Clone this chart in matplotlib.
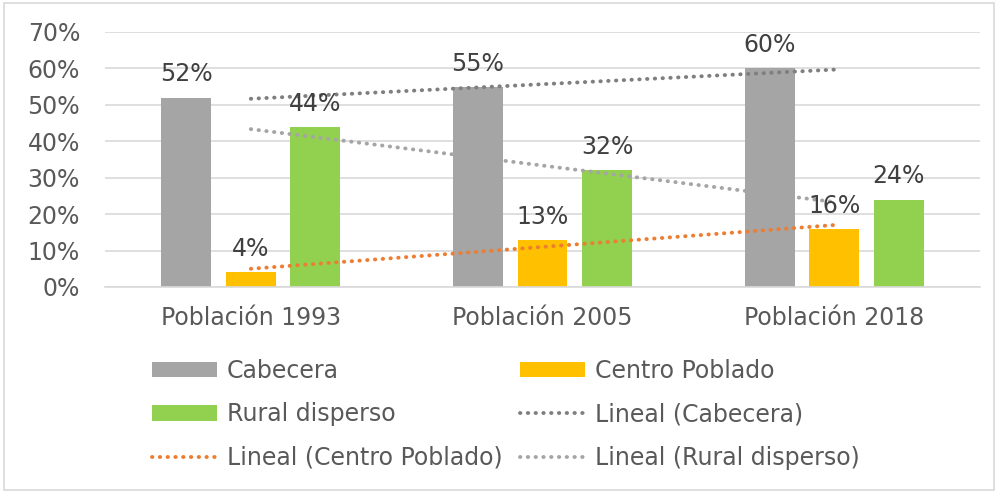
import numpy as np
import matplotlib
matplotlib.use("Agg")
import matplotlib.pyplot as plt
from matplotlib.patches import Rectangle

categories = ["Población 1993", "Población 2005", "Población 2018"]
series_names = ["Cabecera", "Centro Poblado", "Rural disperso"]
cabecera = [52, 55, 60]
centro = [4, 13, 16]
rural = [44, 32, 24]
yticks = [0, 10, 20, 30, 40, 50, 60, 70]

colors = ["#A5A5A5", "#FFC000", "#92D050"]
trend_colors = ["#7F7F7F", "#ED7D31", "#A5A5A5"]
label_color = "#404040"
text_color = "#595959"
FS = 17

plt.rcParams['font.family'] = ['DejaVu Sans']
fig = plt.figure(figsize=(10, 4.92), dpi=100)
ax = fig.add_axes([0.105, 0.4167, 0.875, 0.5183])

x = np.arange(len(categories))
w = 0.171
step = 0.221
data = [cabecera, centro, rural]
bars = []
for i, (vals, c, name) in enumerate(zip(data, colors, series_names)):
    b = ax.bar(x + (i - 1) * step, vals, width=w, color=c, label=name, zorder=2)
    bars.append(b)
    for xi, v in zip(x + (i - 1) * step, vals):
        ax.annotate(f"{v}%", (xi, v), xytext=(0, 8), textcoords="offset points",
                    ha="center", va="bottom", fontsize=FS, color=label_color, zorder=4)

trend_handles = []
for vals, c, name in zip(data, trend_colors, series_names):
    coef = np.polyfit(x, vals, 1)
    ln, = ax.plot(x, np.polyval(coef, x), color=c, linestyle=(0, (0.1, 1.9)),
                  dash_capstyle="round", linewidth=2.8, zorder=3,
                  label=f"Lineal ({name})")
    trend_handles.append(ln)

ax.set_xlim(-0.5, 2.5)
ax.set_ylim(0, 70)
ax.set_yticks(yticks)
ax.set_yticklabels([f"{t}%" for t in yticks])
ax.set_xticks(x)
ax.set_xticklabels(categories)
ax.tick_params(axis="both", length=0, labelsize=FS, colors=text_color)
ax.tick_params(axis="x", pad=14)
ax.tick_params(axis="y", pad=18)
ax.yaxis.grid(True, color="#D9D9D9", linewidth=1.2, zorder=0)
ax.set_axisbelow(True)
for s in ["top", "right", "left"]:
    ax.spines[s].set_visible(False)
ax.spines["bottom"].set_color("#D9D9D9")
ax.spines["bottom"].set_linewidth(1.2)

col1 = [bars[0], bars[2], trend_handles[1]]
col2 = [bars[1], trend_handles[0], trend_handles[2]]
common = dict(loc="upper left", frameon=False, fontsize=FS, handlelength=2.75,
              handleheight=0.62, handletextpad=0.42, labelspacing=0.82,
              borderaxespad=0)
leg1 = fig.legend(col1, [h.get_label() for h in col1],
                  bbox_to_anchor=(0.1425, 0.2896), **common)
leg2 = fig.legend(col2, [h.get_label() for h in col2],
                  bbox_to_anchor=(0.5105, 0.2896), **common)
for leg in (leg1, leg2):
    for t in leg.get_texts():
        t.set_color(text_color)

fig.patches.append(Rectangle((0.004, 0.004), 0.99, 0.99, transform=fig.transFigure,
                             fill=False, edgecolor="#D9D9D9", linewidth=1.2))

fig.savefig("out.png", dpi=100)
